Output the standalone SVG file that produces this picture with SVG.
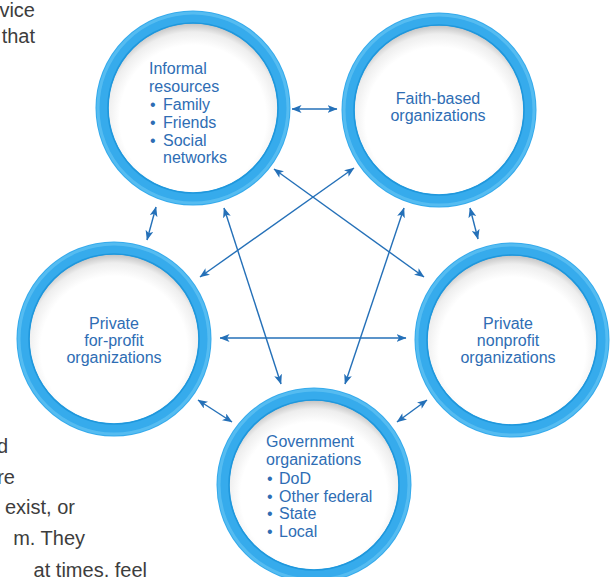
<svg xmlns="http://www.w3.org/2000/svg" width="615" height="577" viewBox="0 0 615 577">
  <defs>
    <radialGradient id="inner" cx="50%" cy="56%" r="54%">
      <stop offset="0" stop-color="#ffffff"/>
      <stop offset="0.78" stop-color="#ffffff"/>
      <stop offset="0.92" stop-color="#eeeeee"/>
      <stop offset="1" stop-color="#c9c9c9"/>
    </radialGradient>
    <marker id="ah" viewBox="0 0 10 8" markerWidth="10" markerHeight="8" refX="9.5" refY="4" orient="auto-start-reverse" markerUnits="userSpaceOnUse">
      <path d="M0,0 L10,4 L0,8 L2.5,4 z" fill="#2470b8"/>
    </marker>
  </defs>
  <style>
    .bg { font-family: "Liberation Sans", Arial, sans-serif; font-size: 20px; fill: #3d3d3d; text-anchor: end; }
    .lbl { font-family: "Liberation Sans", Arial, sans-serif; font-size: 16px; fill: #2e6db4; }
    .mid { text-anchor: middle; }
    .fill { fill: url(#inner); }
    .ring { fill: none; stroke: #36abec; stroke-width: 13; }
    .hi { fill: none; stroke: #63c3f4; stroke-width: 3; opacity: 0.7; }
    .edge { fill: none; stroke: #1f97dc; stroke-width: 1.6; }
    .conn line { stroke: #2470b8; stroke-width: 1.4; marker-start: url(#ah); marker-end: url(#ah); }
  </style>

  <g id="page-text">
    <text class="bg" x="35" y="17">vice</text>
    <text class="bg" x="35" y="43">that</text>
    <text class="bg" x="8" y="453">d</text>
    <text class="bg" x="15" y="484">re</text>
    <text class="bg" x="75" y="514">exist, or</text>
    <text class="bg" x="85" y="545">m. They</text>
    <text class="bg" x="147" y="577">at times, feel</text>
  </g>

  <g id="informal">
    <circle class="fill" cx="193" cy="108" r="87"/>
    <circle class="ring" cx="193" cy="108" r="91"/>
    <circle class="hi" cx="193" cy="108" r="95"/>
    <circle class="edge" cx="193" cy="108" r="85"/>
    <text class="lbl" x="149" y="74">Informal</text>
    <text class="lbl" x="149" y="92">resources</text>
    <text class="lbl" x="150" y="110">•</text><text class="lbl" x="163" y="110">Family</text>
    <text class="lbl" x="150" y="128">•</text><text class="lbl" x="163" y="128">Friends</text>
    <text class="lbl" x="150" y="146">•</text><text class="lbl" x="163" y="146">Social</text>
    <text class="lbl" x="163" y="163">networks</text>
  </g>

  <g id="faith">
    <circle class="fill" cx="439" cy="110" r="87"/>
    <circle class="ring" cx="439" cy="110" r="91"/>
    <circle class="hi" cx="439" cy="110" r="95"/>
    <circle class="edge" cx="439" cy="110" r="85"/>
    <text class="lbl mid" x="438" y="104">Faith-based</text>
    <text class="lbl mid" x="438" y="121">organizations</text>
  </g>

  <g id="forprofit">
    <circle class="fill" cx="114" cy="339" r="87"/>
    <circle class="ring" cx="114" cy="339" r="91"/>
    <circle class="hi" cx="114" cy="339" r="95"/>
    <circle class="edge" cx="114" cy="339" r="85"/>
    <text class="lbl mid" x="114" y="329">Private</text>
    <text class="lbl mid" x="114" y="346">for-profit</text>
    <text class="lbl mid" x="114" y="363">organizations</text>
  </g>

  <g id="nonprofit">
    <circle class="fill" cx="512" cy="340" r="87"/>
    <circle class="ring" cx="512" cy="340" r="91"/>
    <circle class="hi" cx="512" cy="340" r="95"/>
    <circle class="edge" cx="512" cy="340" r="85"/>
    <text class="lbl mid" x="508" y="329">Private</text>
    <text class="lbl mid" x="508" y="346">nonprofit</text>
    <text class="lbl mid" x="508" y="363">organizations</text>
  </g>

  <g id="government">
    <circle class="fill" cx="314" cy="485" r="87"/>
    <circle class="ring" cx="314" cy="485" r="91"/>
    <circle class="hi" cx="314" cy="485" r="95"/>
    <circle class="edge" cx="314" cy="485" r="85"/>
    <text class="lbl" x="266" y="447">Government</text>
    <text class="lbl" x="266" y="465">organizations</text>
    <text class="lbl" x="267" y="484">•</text><text class="lbl" x="279" y="484">DoD</text>
    <text class="lbl" x="267" y="502">•</text><text class="lbl" x="279" y="502">Other federal</text>
    <text class="lbl" x="267" y="519">•</text><text class="lbl" x="279" y="519">State</text>
    <text class="lbl" x="267" y="537">•</text><text class="lbl" x="279" y="537">Local</text>
  </g>

  <g id="connectors" class="conn">
    <line x1="292" y1="109" x2="337" y2="109"/>
    <line x1="156" y1="207" x2="147" y2="240"/>
    <line x1="224" y1="208" x2="281" y2="384"/>
    <line x1="274" y1="169" x2="424" y2="277"/>
    <line x1="354" y1="168" x2="200" y2="277"/>
    <line x1="404" y1="208" x2="345" y2="384"/>
    <line x1="470" y1="208" x2="478" y2="239"/>
    <line x1="220" y1="338" x2="406" y2="338"/>
    <line x1="198" y1="400" x2="232" y2="422"/>
    <line x1="427" y1="400" x2="397" y2="422"/>
  </g>
</svg>
